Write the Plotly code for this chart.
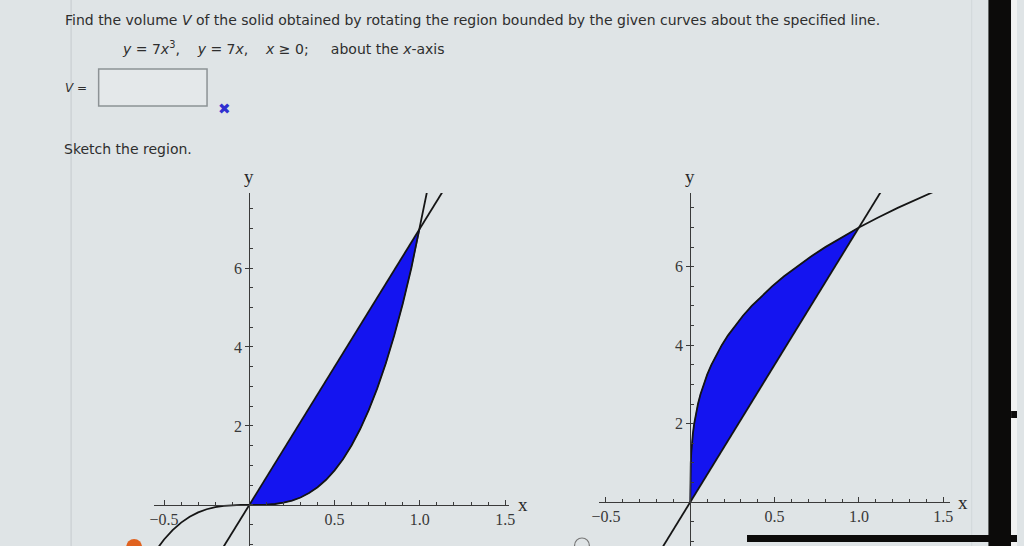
import plotly.graph_objects as go

# ---------------- data ----------------
# left sketch: y = 7x^3 and y = 7x
CUBIC_X = [-0.55, -0.50, -0.45, -0.40, -0.35, -0.30, -0.25, -0.20, -0.15, -0.10, -0.05,
           0.00, 0.05, 0.10, 0.15, 0.20, 0.25, 0.30, 0.35, 0.40, 0.45, 0.50, 0.55,
           0.60, 0.65, 0.70, 0.75, 0.80, 0.85, 0.90, 0.95, 1.00, 1.05]
CUBIC_Y = [-1.1646, -0.875, -0.6379, -0.448, -0.3001, -0.189, -0.1094, -0.056, -0.0236, -0.007, -0.0009,
           0.0, 0.0009, 0.007, 0.0236, 0.056, 0.1094, 0.189, 0.3001, 0.448, 0.6379, 0.875, 1.1646,
           1.512, 1.9224, 2.401, 2.9531, 3.584, 4.2989, 5.103, 6.0016, 7.0, 8.1034]
LINE_X = [-0.2, 1.2]
LINE_Y = [-1.4, 8.4]

# right sketch: the mirrored curve through (0,0) and (1,7), and y = 7x
ROOT_Y = [0.0, 0.25, 0.5, 0.75, 1.0, 1.25, 1.5, 1.75, 2.0, 2.25, 2.5, 2.75, 3.0, 3.25, 3.5, 3.75,
          4.0, 4.25, 4.5, 4.75, 5.0, 5.25, 5.5, 5.75, 6.0, 6.25, 6.5, 6.75, 7.0, 7.25, 7.5, 7.9]
ROOT_X = [0.0, 0.00005, 0.00036, 0.00123, 0.00292, 0.00569, 0.00984, 0.01563, 0.02332, 0.03321,
          0.04555, 0.06063, 0.07872, 0.10008, 0.125, 0.15374, 0.18659, 0.22381, 0.26567, 0.31245,
          0.36443, 0.42188, 0.48506, 0.55425, 0.62974, 0.71178, 0.80066, 0.89664, 1.0, 1.11101,
          1.22996, 1.43743]

X_TICKS = [-0.5, 0.5, 1.0, 1.5]
X_TICK_TEXT = ["\u22120.5", "0.5", "1.0", "1.5"]
Y_TICKS = [2, 4, 6]
Y_TICK_TEXT = ["2", "4", "6"]

# ---------------- layout helpers ----------------
W, H = 1024, 546
BG = "#dfe4e6"
BLUE = "#1414f0"
INK = "#151515"


def px(x):
    return x / W


def py(y):
    return 1 - y / H


LEFT = dict(xdom=[px(148), px(508)], xr=[-0.56, 1.52], ydom=[0, py(193)], yr=[-1.04, 7.9])
RIGHT = dict(xdom=[px(600), px(956)], xr=[-0.54, 1.54], ydom=[0, py(193)], yr=[-1.12, 7.88])


def zero_pos(dom, rng):
    return dom[0] + (0 - rng[0]) / (rng[1] - rng[0]) * (dom[1] - dom[0])


tickfont = dict(family="Liberation Serif", size=16, color="#383838")

fig = go.Figure()

# left: region, then curves
fill_l = [(x, y) for x, y in zip(CUBIC_X, CUBIC_Y) if 0 <= x <= 1]
fig.add_trace(go.Scatter(x=[p[0] for p in fill_l], y=[p[1] for p in fill_l], fill="toself",
                         fillcolor=BLUE, mode="lines", line=dict(color="#1010b0", width=0.8),
                         xaxis="x", yaxis="y", hoverinfo="skip", showlegend=False))
fig.add_trace(go.Scatter(x=LINE_X, y=LINE_Y, mode="lines", line=dict(color=INK, width=1.8),
                         xaxis="x", yaxis="y", hoverinfo="skip", showlegend=False))
fig.add_trace(go.Scatter(x=CUBIC_X, y=CUBIC_Y, mode="lines", line=dict(color=INK, width=1.8),
                         xaxis="x", yaxis="y", hoverinfo="skip", showlegend=False))

# right
fill_r = [(x, y) for x, y in zip(ROOT_X, ROOT_Y) if 0 <= x <= 1]
fig.add_trace(go.Scatter(x=[p[0] for p in fill_r], y=[p[1] for p in fill_r], fill="toself",
                         fillcolor=BLUE, mode="lines", line=dict(color="#1010b0", width=0.8),
                         xaxis="x2", yaxis="y2", hoverinfo="skip", showlegend=False))
fig.add_trace(go.Scatter(x=LINE_X, y=LINE_Y, mode="lines", line=dict(color=INK, width=1.8),
                         xaxis="x2", yaxis="y2", hoverinfo="skip", showlegend=False))
fig.add_trace(go.Scatter(x=ROOT_X, y=ROOT_Y, mode="lines", line=dict(color=INK, width=1.8),
                         xaxis="x2", yaxis="y2", hoverinfo="skip", showlegend=False))


def xaxis_for(p):
    return dict(domain=p["xdom"], range=p["xr"], anchor="free",
                position=zero_pos(p["ydom"], p["yr"]),
                showline=True, linecolor="#3a3a3a", linewidth=1.2,
                ticks="inside", ticklen=5, tickwidth=1, tickcolor="#3a3a3a",
                tickvals=X_TICKS, ticktext=X_TICK_TEXT, tickfont=tickfont,
                minor=dict(dtick=0.1, tick0=0, ticks="inside", ticklen=3, tickcolor="#3a3a3a"),
                showgrid=False, zeroline=False, fixedrange=True)


def yaxis_for(p):
    return dict(domain=p["ydom"], range=p["yr"], anchor="free",
                position=zero_pos(p["xdom"], p["xr"]),
                showline=True, linecolor="#3a3a3a", linewidth=1.2,
                ticks="outside", ticklen=4, tickwidth=1, tickcolor="#3a3a3a",
                tickvals=Y_TICKS, ticktext=Y_TICK_TEXT, tickfont=tickfont,
                minor=dict(dtick=0.5, tick0=0, ticks="inside", ticklen=3, tickcolor="#3a3a3a"),
                showgrid=False, zeroline=False, fixedrange=True)


sans = "DejaVu Sans"
txt = "#2e2e2e"
NB = "\u00a0"

annotations = [
    dict(text="Find the volume <i>V</i> of the solid obtained by rotating the region bounded by the given curves about the specified line.",
         x=px(56), y=py(20), xanchor="left", yanchor="middle", font=dict(family=sans, size=14, color=txt)),
    dict(text=f"<i>y</i> = 7<i>x</i><sup>3</sup>,{NB*4}<i>y</i> = 7<i>x</i>,{NB*4}<i>x</i> \u2265 0;{NB*5}about the <i>x</i>-axis",
         x=px(114), y=py(48), xanchor="left", yanchor="middle", font=dict(family=sans, size=14, color=txt)),
    dict(text="<i>V</i> =", x=px(56), y=py(88), xanchor="left", yanchor="middle",
         font=dict(family=sans, size=12, color=txt)),
    dict(text="\u2716", x=px(220), y=py(109), xanchor="center", yanchor="middle",
         font=dict(family=sans, size=15, color="#3030d0")),
    dict(text="Sketch the region.", x=px(55), y=py(149), xanchor="left", yanchor="middle",
         font=dict(family=sans, size=14, color=txt)),
    # axis names
    dict(text="y", x=0, y=LEFT["yr"][1], xref="x", yref="y", xanchor="center", yanchor="bottom",
         yshift=4, font=dict(family="Liberation Serif", size=19, color="#2a2a2a")),
    dict(text="x", x=LEFT["xr"][1], y=0, xref="x", yref="y", xanchor="left", yanchor="middle",
         xshift=7, font=dict(family="Liberation Serif", size=19, color="#2a2a2a")),
    dict(text="y", x=0, y=RIGHT["yr"][1], xref="x2", yref="y2", xanchor="center", yanchor="bottom",
         yshift=4, font=dict(family="Liberation Serif", size=19, color="#2a2a2a")),
    dict(text="x", x=RIGHT["xr"][1], y=0, xref="x2", yref="y2", xanchor="left", yanchor="middle",
         xshift=6, font=dict(family="Liberation Serif", size=19, color="#2a2a2a")),
]
for a in annotations:
    a.setdefault("xref", "paper")
    a.setdefault("yref", "paper")
    a["showarrow"] = False

shapes = [
    # page border lines
    dict(type="line", x0=px(64), x1=px(64), y0=0, y1=1, line=dict(color="#c5cbce", width=1), layer="below"),
    dict(type="line", x0=px(978), x1=px(978), y0=0, y1=1, line=dict(color="#d2d7da", width=1), layer="below"),
    # answer box
    dict(type="rect", x0=px(92), x1=px(202), y0=py(106), y1=py(69),
         line=dict(color="#8c9295", width=1.5), fillcolor="#e4e8ea", layer="below"),
    # monitor bezel on the right
    dict(type="rect", x0=px(995), x1=px(1018), y0=0, y1=1, line=dict(width=0), fillcolor="#0c0b0a"),
    dict(type="rect", x0=px(1018), x1=1, y0=0, y1=1, line=dict(width=0), fillcolor="#f1f2f2"),
    dict(type="rect", x0=px(1018), x1=1, y0=py(418), y1=py(411), line=dict(width=0), fillcolor="#0c0b0a"),
    # bottom cable/bar
    dict(type="rect", x0=px(750), x1=1, y0=py(542), y1=py(535), line=dict(width=0), fillcolor="#0c0b0a"),
    # small round items at the bottom edge
    dict(type="circle", x0=px(120), x1=px(136), y0=py(554), y1=py(539), line=dict(width=0), fillcolor="#e0621f"),
    dict(type="circle", x0=px(575), x1=px(590), y0=py(553), y1=py(538), line=dict(color="#777", width=1.2),
         fillcolor="rgba(0,0,0,0)"),
]
for s in shapes:
    s["xref"] = "paper"
    s["yref"] = "paper"

fig.update_layout(
    width=W, height=H, margin=dict(l=0, r=0, t=0, b=0),
    paper_bgcolor=BG, plot_bgcolor="rgba(0,0,0,0)",
    xaxis=xaxis_for(LEFT), yaxis=yaxis_for(LEFT),
    xaxis2=xaxis_for(RIGHT), yaxis2=yaxis_for(RIGHT),
    annotations=annotations, shapes=shapes, showlegend=False,
)

fig.write_html("out.html", config={"displayModeBar": False},
               post_script="document.body.style.margin='0';document.body.style.overflow='hidden';")
